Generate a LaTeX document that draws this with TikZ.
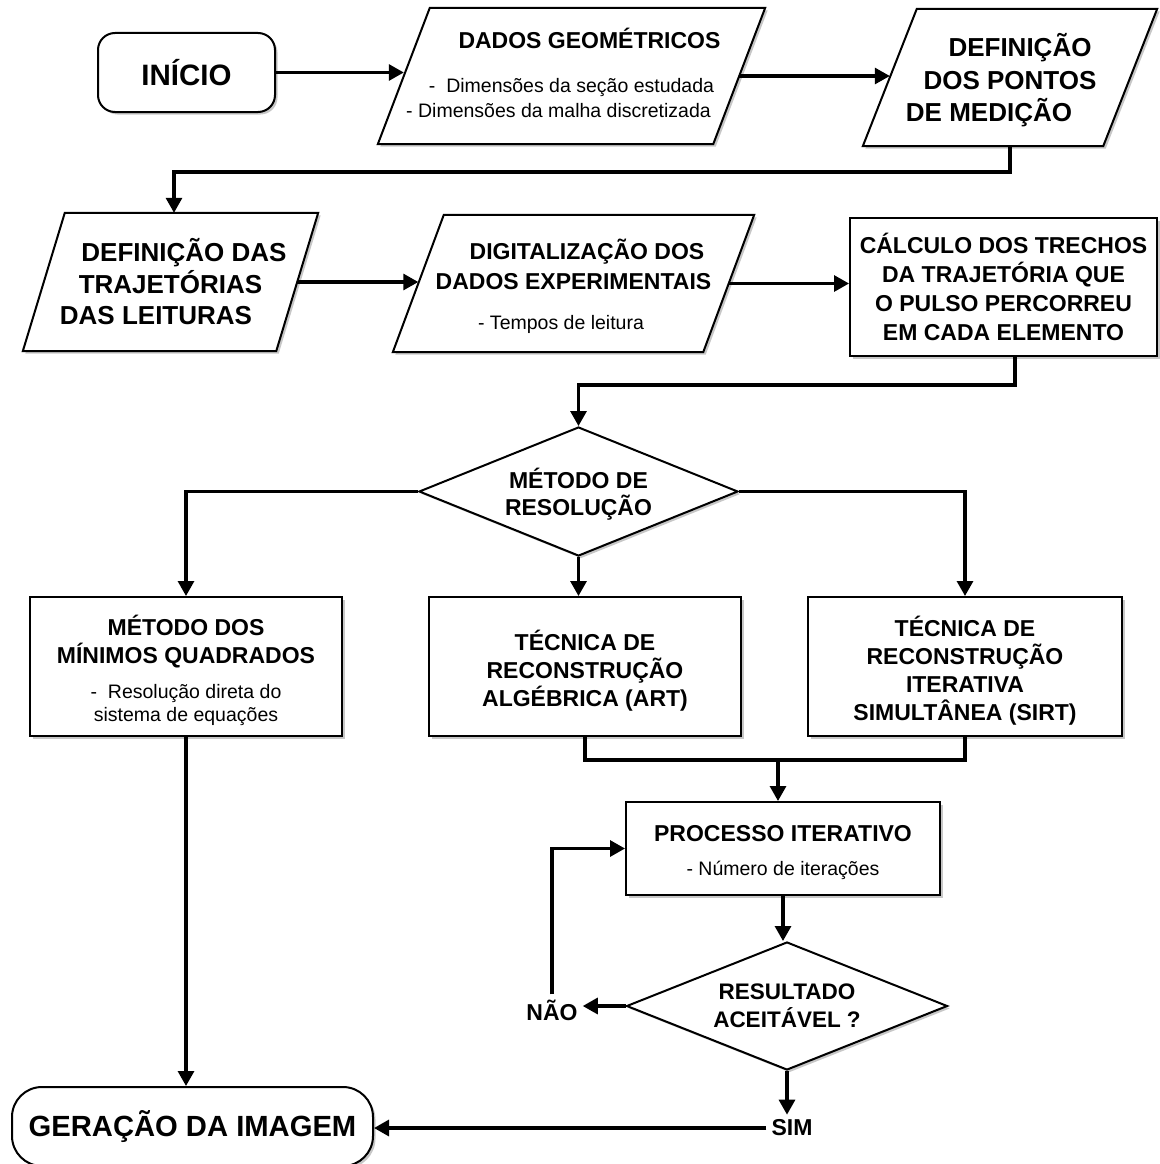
\documentclass[tikz,border=0pt]{standalone}
\usepackage{fontspec}
\setmainfont{Liberation Sans}
\usetikzlibrary{shapes.geometric,arrows.meta,shadows,calc,backgrounds}

% font sizes used in the flowchart
\newcommand\fhuge{\fontsize{29.2}{34}\selectfont\bfseries}
\newcommand\fmid{\fontsize{23}{28}\selectfont\bfseries}

% parallelogram (input/output block) drawn around a node; #2 is the
% horizontal offset of the top edge with respect to the bottom edge
\newcommand\slantbox[2]{%
  \begin{pgfonlayer}{background}
    \fill[black, opacity=0.22]
      ($(#1.south west)+(2.5,2.5)$) -- ($(#1.north west)+(#2+2.5,2.5)$) --
      ($(#1.north east)+(2.5,2.5)$) -- ($(#1.south east)+(-#2+2.5,2.5)$) -- cycle;
    \draw[line width=2pt, fill=white]
      (#1.south west) -- ($(#1.north west)+(#2,0)$) --
      (#1.north east) -- ($(#1.south east)-(#2,0)$) -- cycle;
  \end{pgfonlayer}
  \coordinate (#1-w) at ($(#1.west)+(#2/2,0)$);
  \coordinate (#1-e) at ($(#1.east)-(#2/2,0)$);
}

\tikzset{
  x=1pt, y=-1pt,
  shade/.style={drop shadow={shadow xshift=2.5pt, shadow yshift=-2.5pt, fill=black, opacity=0.22}},
  shapeline/.style={draw=black, line width=2pt, fill=white, shade, inner sep=0pt, align=center},
  procbox/.style={shapeline, rectangle},
  termbox/.style={shapeline, rectangle, rounded corners=17pt},
  iobox/.style={rectangle, inner sep=0pt, align=center},
  decbox/.style={shapeline, diamond},
  tag/.style={inner sep=5pt, font=\fmid},
  conn/.style={line width=3.1pt, -{Triangle[length=15pt,width=16pt]}},
  wire/.style={line width=3.1pt},
}

\begin{document}
\begin{tikzpicture}
\useasboundingbox (0,0) rectangle (1159,1164);
\begin{pgfonlayer}{background}
  \fill[white] (0,0) rectangle (1159,1164);
\end{pgfonlayer}

% ---- first row
\node[termbox, minimum width=177, minimum height=79, font=\fontsize{29.5}{34}\selectfont\bfseries]
  (inicio) at (186.5,72.5) {INÍCIO};

\node[iobox, minimum width=387, minimum height=136, font=\fontsize{19.5}{25}\selectfont]
  (dados) at (571.5,76)
  {\fmid\hspace*{36pt}DADOS GEOMÉTRICOS\\[19pt]
   -\ \ Dimensões da seção estudada\hspace*{10pt}\\
   - Dimensões da malha discretizada\hspace*{26pt}\rule[-6pt]{0pt}{0pt}};
\slantbox{dados}{52}

\node[iobox, minimum width=294, minimum height=137, font=\fontsize{26}{32.5}\selectfont\bfseries]
  (pontos) at (1010,77.5)
  {\rule{0pt}{28.5pt}\hspace*{20pt}DEFINIÇÃO\\DOS PONTOS\hspace*{10pt}\\DE MEDIÇÃO\hspace*{42pt}};
\slantbox{pontos}{54}

% ---- second row
\node[iobox, minimum width=295, minimum height=138, font=\fontsize{26}{31.5}\selectfont\bfseries]
  (traj) at (170.5,282)
  {\hspace*{27pt}DEFINIÇÃO DAS\\TRAJETÓRIAS\hspace*{23pt}\\DAS LEITURAS\hspace*{29pt}};
\slantbox{traj}{42}

\node[iobox, minimum width=361, minimum height=137, font=\fontsize{19.5}{30}\selectfont]
  (digit) at (573.5,283.5)
  {\fmid\rule{0pt}{27pt}\hspace*{27pt}DIGITALIZAÇÃO DOS\\\fmid DADOS EXPERIMENTAIS\\[10pt]
   - Tempos de leitura\hspace*{25pt}};
\slantbox{digit}{51}

\node[procbox, minimum width=307, minimum height=138, font=\fontsize{23}{29}\selectfont\bfseries]
  (calc) at (1003.5,287)
  {CÁLCULO DOS TRECHOS\\DA TRAJETÓRIA QUE\\O PULSO PERCORREU\\EM CADA ELEMENTO};

% ---- method choice
\node[decbox, minimum width=319, minimum height=129,
  label={[name=metodotxt, yshift=-2.5pt, align=center, font=\fontsize{23}{27}\selectfont\bfseries]center:MÉTODO DE\\RESOLUÇÃO}]
  (metodo) at (578.5,491.5) {};

\node[procbox, minimum width=312, minimum height=139, font=\fontsize{19.5}{23}\selectfont]
  (mmq) at (186,666.5)
  {\fmid\rule{0pt}{29pt}MÉTODO DOS\\[5pt]\fmid MÍNIMOS QUADRADOS\\[12pt]
   -\ \ Resolução direta do\hspace*{12pt}\\sistema de equações};

\node[procbox, minimum width=312, minimum height=139, font=\fontsize{23}{28}\selectfont\bfseries]
  (art) at (585,666.5)
  {\rule{0pt}{29pt}TÉCNICA DE\\RECONSTRUÇÃO\\ALGÉBRICA (ART)};

\node[procbox, minimum width=314, minimum height=139, font=\fontsize{23}{28}\selectfont\bfseries]
  (sirt) at (965,666.5)
  {\rule{0pt}{29pt}TÉCNICA DE\\RECONSTRUÇÃO\\ITERATIVA\\SIMULTÂNEA (SIRT)};

% ---- iterative loop
\node[procbox, minimum width=314, minimum height=93, font=\fontsize{19.5}{24}\selectfont]
  (proc) at (783,848.5)
  {\fmid\rule{0pt}{25pt}PROCESSO ITERATIVO\\[10pt]- Número de iterações};

\node[decbox, minimum width=321, minimum height=128,
  label={[name=resulttxt, align=center, font=\fontsize{22.5}{28}\selectfont\bfseries]center:RESULTADO\\ACEITÁVEL ?}]
  (result) at (787,1006) {};

\node[tag] (nao) at (552,1010) {NÃO};
\node[tag] (sim) at (792,1128) {SIM};

\node[termbox, rounded corners=30pt, minimum width=361, minimum height=79, font=\fhuge]
  (geracao) at (192.5,1126.5) {GERAÇÃO DA IMAGEM};

% ---- connectors
\coordinate (j1) at (174,172);
\coordinate (j2) at (1015,385);
\coordinate (j3) at (778,760);

\draw[conn] (inicio.east) -- (inicio.east -| dados-w);
\draw[conn] (dados-e) -- (dados-e -| pontos-w);
\draw[conn] (pontos.south) |- (j1) -- (j1 |- traj.north);
\draw[conn] (traj-e) -- (traj-e -| digit-w);
\draw[conn] (digit-e) -- (digit-e -| calc.west);
\draw[conn] (j2 |- calc.south) -- (j2) -| (metodo.north);

\draw[conn] (metodo.west) -| (mmq.north);
\draw[conn] (metodo.east) -| (sirt.north);
\draw[conn] (metodo.south) -- (metodo.south |- art.north);

\draw[wire] (art.south) |- (sirt.south |- j3) -- (sirt.south);
\draw[conn] (j3) -- (j3 |- proc.north);
\draw[conn] (proc.south) -- (proc.south |- result.north);

\draw[conn] (result.west) -- (result.west -| nao.east);
\draw[conn] (nao.north) |- (proc.west);
\draw[conn] (result.south) -- (result.south |- sim.north);
\draw[conn] (sim.west) -- (sim.west -| geracao.east);
\draw[conn] (mmq.south) -- (mmq.south |- geracao.north);
\end{tikzpicture}
\end{document}
